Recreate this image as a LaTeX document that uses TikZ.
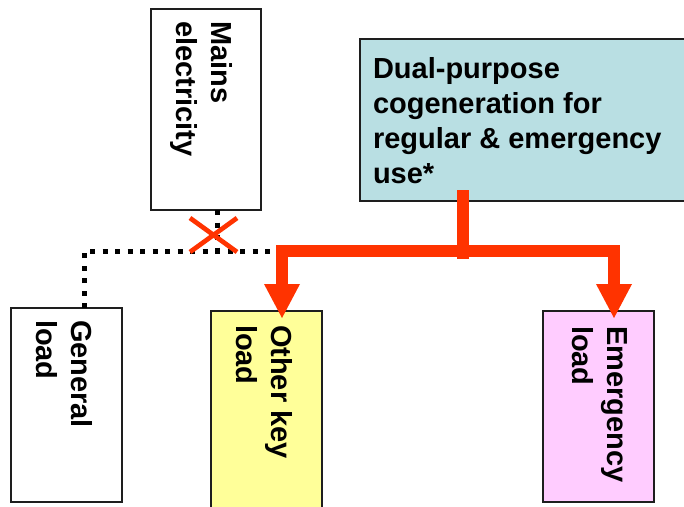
\documentclass[tikz,border=0pt]{standalone}
\usepackage{fontspec}
\setmainfont{Liberation Sans}
\usetikzlibrary{arrows.meta}
\definecolor{redc}{RGB}{255,51,0}
\definecolor{cogenfill}{RGB}{185,223,227}
\definecolor{yellowfill}{RGB}{255,255,153}
\definecolor{pinkfill}{RGB}{255,204,255}
\definecolor{edgec}{RGB}{30,30,30}
\tikzset{
  boxnode/.style={draw=edgec, line width=2pt, anchor=north west, inner sep=0pt, outer sep=0pt},
  lbl/.style={font=\fontsize{29}{35}\selectfont\bfseries, align=left, inner sep=0pt, outer sep=0pt},
  vlbl/.style={lbl, rotate=-90, anchor=north west},
  redline/.style={draw=redc, line width=12pt, line join=miter, line cap=butt},
  redarrows/.style={redline, {Triangle[width=36pt,length=34pt,line width=0pt]}-{Triangle[width=36pt,length=34pt,line width=0pt]}},
  dotline/.style={draw=black, line width=5pt, dash pattern=on 5pt off 7.5pt},
  cross/.style={draw=redc, line width=4.7pt}
}
\begin{document}
\begin{tikzpicture}[x=1pt,y=-1pt]
\clip (0,0) rectangle (684,506);
\fill[white] (0,0) rectangle (684,506);
% boxes
\node[boxnode, minimum width=110pt, minimum height=201pt] (mains) at (151,9) {};
\node[boxnode, fill=cogenfill, minimum width=400pt, minimum height=162pt] (cogen) at (360,39) {};
\node[boxnode, minimum width=111pt, minimum height=194pt] (gen) at (11,308) {};
\node[boxnode, fill=yellowfill, minimum width=111pt, minimum height=210pt] (other) at (211,311) {};
\node[boxnode, fill=pinkfill, minimum width=111pt, minimum height=191pt] (emerg) at (543,311) {};
% labels
\node[vlbl] (mainsT) at (233,21) {Mains\\electricity};
\node[lbl, anchor=north west] (cogenT) at (373,57.5) {Dual-purpose\\cogeneration for\\regular \& emergency\\use*};
\node[vlbl] (genT) at (93,320) {General\\load};
\node[vlbl] (otherT) at (293,325) {Other key\\load};
\node[vlbl] (emergT) at (627,326) {Emergency\\load};
% coordinates
\coordinate (mb) at (217,210);
\coordinate (mj) at (217,251);
\coordinate (gt) at (84.5,308);
\coordinate (gc) at (84.5,251);
\coordinate (de) at (280,251);
\coordinate (cs) at (463,190);
\coordinate (ce) at (463,259);
\coordinate (bar) at (463,251);
\coordinate (tipA) at (282,318);
\coordinate (tipB) at (614,318);
\coordinate (xa) at (190,218);
\coordinate (xb) at (237,252);
\coordinate (xc) at (190,252);
\coordinate (xd) at (237,218);
% dotted mains connection
\draw[dotline] (mb) -- (mj);
\draw[dotline] (gt) -- (gc) -- (de);
% red cross
\draw[cross] (xa) -- (xb);
\draw[cross] (xc) -- (xd);
% red cogeneration connection
\draw[redline] (cs) -- (ce);
\draw[redarrows] (tipA) -- (tipA |- bar) -- (tipB |- bar) -- (tipB);
\end{tikzpicture}
\end{document}
